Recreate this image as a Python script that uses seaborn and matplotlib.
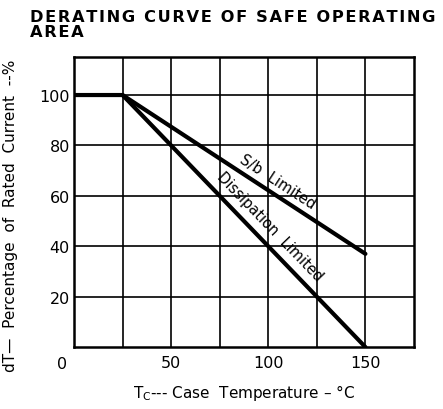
import matplotlib
matplotlib.use('Agg')
import matplotlib.pyplot as plt
import seaborn as sns
import pandas as pd

# derating curves
temp_dissipation = [0, 25, 150]
pct_dissipation = [100, 100, 0]
temp_sb = [25, 150]
pct_sb = [100, 37]

x_ticks = [0, 50, 100, 150]
y_ticks = [20, 40, 60, 80, 100]
grid_x = [25, 50, 75, 100, 125, 150]
grid_y = [20, 40, 60, 80, 100]

sns.set_style("white")
plt.rcParams['font.family'] = ['DejaVu Sans']
plt.rcParams['text.color'] = 'black'
plt.rcParams['axes.labelcolor'] = 'black'
plt.rcParams['xtick.color'] = 'black'
plt.rcParams['ytick.color'] = 'black'

df = pd.concat([
    pd.DataFrame({'T': temp_dissipation, 'pct': pct_dissipation, 'curve': 'Dissipation Limited'}),
    pd.DataFrame({'T': temp_sb, 'pct': pct_sb, 'curve': 'S/b Limited'}),
])

fig = plt.figure(figsize=(4.43, 4.10), dpi=100)
ax = fig.add_axes([0.167, 0.151, 0.7675, 0.707])

for gx in grid_x:
    ax.axvline(gx, color='black', lw=1.2, zorder=1)
for gy in grid_y:
    ax.axhline(gy, color='black', lw=1.2, zorder=1)

sns.lineplot(data=df, x='T', y='pct', hue='curve', palette=['black', 'black'],
             lw=3, legend=False, ax=ax, zorder=3, estimator=None, sort=False)

ax.set_xlim(0, 175)
ax.set_ylim(0, 115)
ax.set_xticks(x_ticks)
ax.set_xticklabels(['', '50', '100', '150'], fontsize=11.5)
ax.set_yticks(y_ticks)
ax.set_yticklabels([str(v) for v in y_ticks], fontsize=11.5)
ax.tick_params(axis='x', length=0, pad=6)
ax.tick_params(axis='y', length=0, pad=3)
ax.text(-0.02, -0.03, '0', transform=ax.transAxes, ha='right', va='top', fontsize=11.5)
for s in ax.spines.values():
    s.set_linewidth(1.8)
    s.set_color('black')

ax.set_xlabel(r'T$_\mathregular{C}$--- Case  Temperature – °C', fontsize=11, labelpad=8)
ax.set_ylabel('dT—  Percentage  of  Rated  Current  --%', fontsize=11)
ax.yaxis.set_label_coords(-0.165, 0.455)

ax.text(105, 66, 'S/b  Limited', rotation=-33, rotation_mode='anchor',
        ha='center', va='center', fontsize=10.5)
ax.text(101, 48, 'Dissipation  Limited', rotation=-46, rotation_mode='anchor',
        ha='center', va='center', fontsize=10.5)

title1 = '\u200a'.join('DERATING CURVE OF SAFE OPERATING')
title2 = '\u200a'.join('AREA')
fig.text(0.068, 0.975, title1 + '\n' + title2, ha='left', va='top',
         fontsize=11.7, fontweight='bold', linespacing=0.95)

fig.savefig('out.png', dpi=100)
